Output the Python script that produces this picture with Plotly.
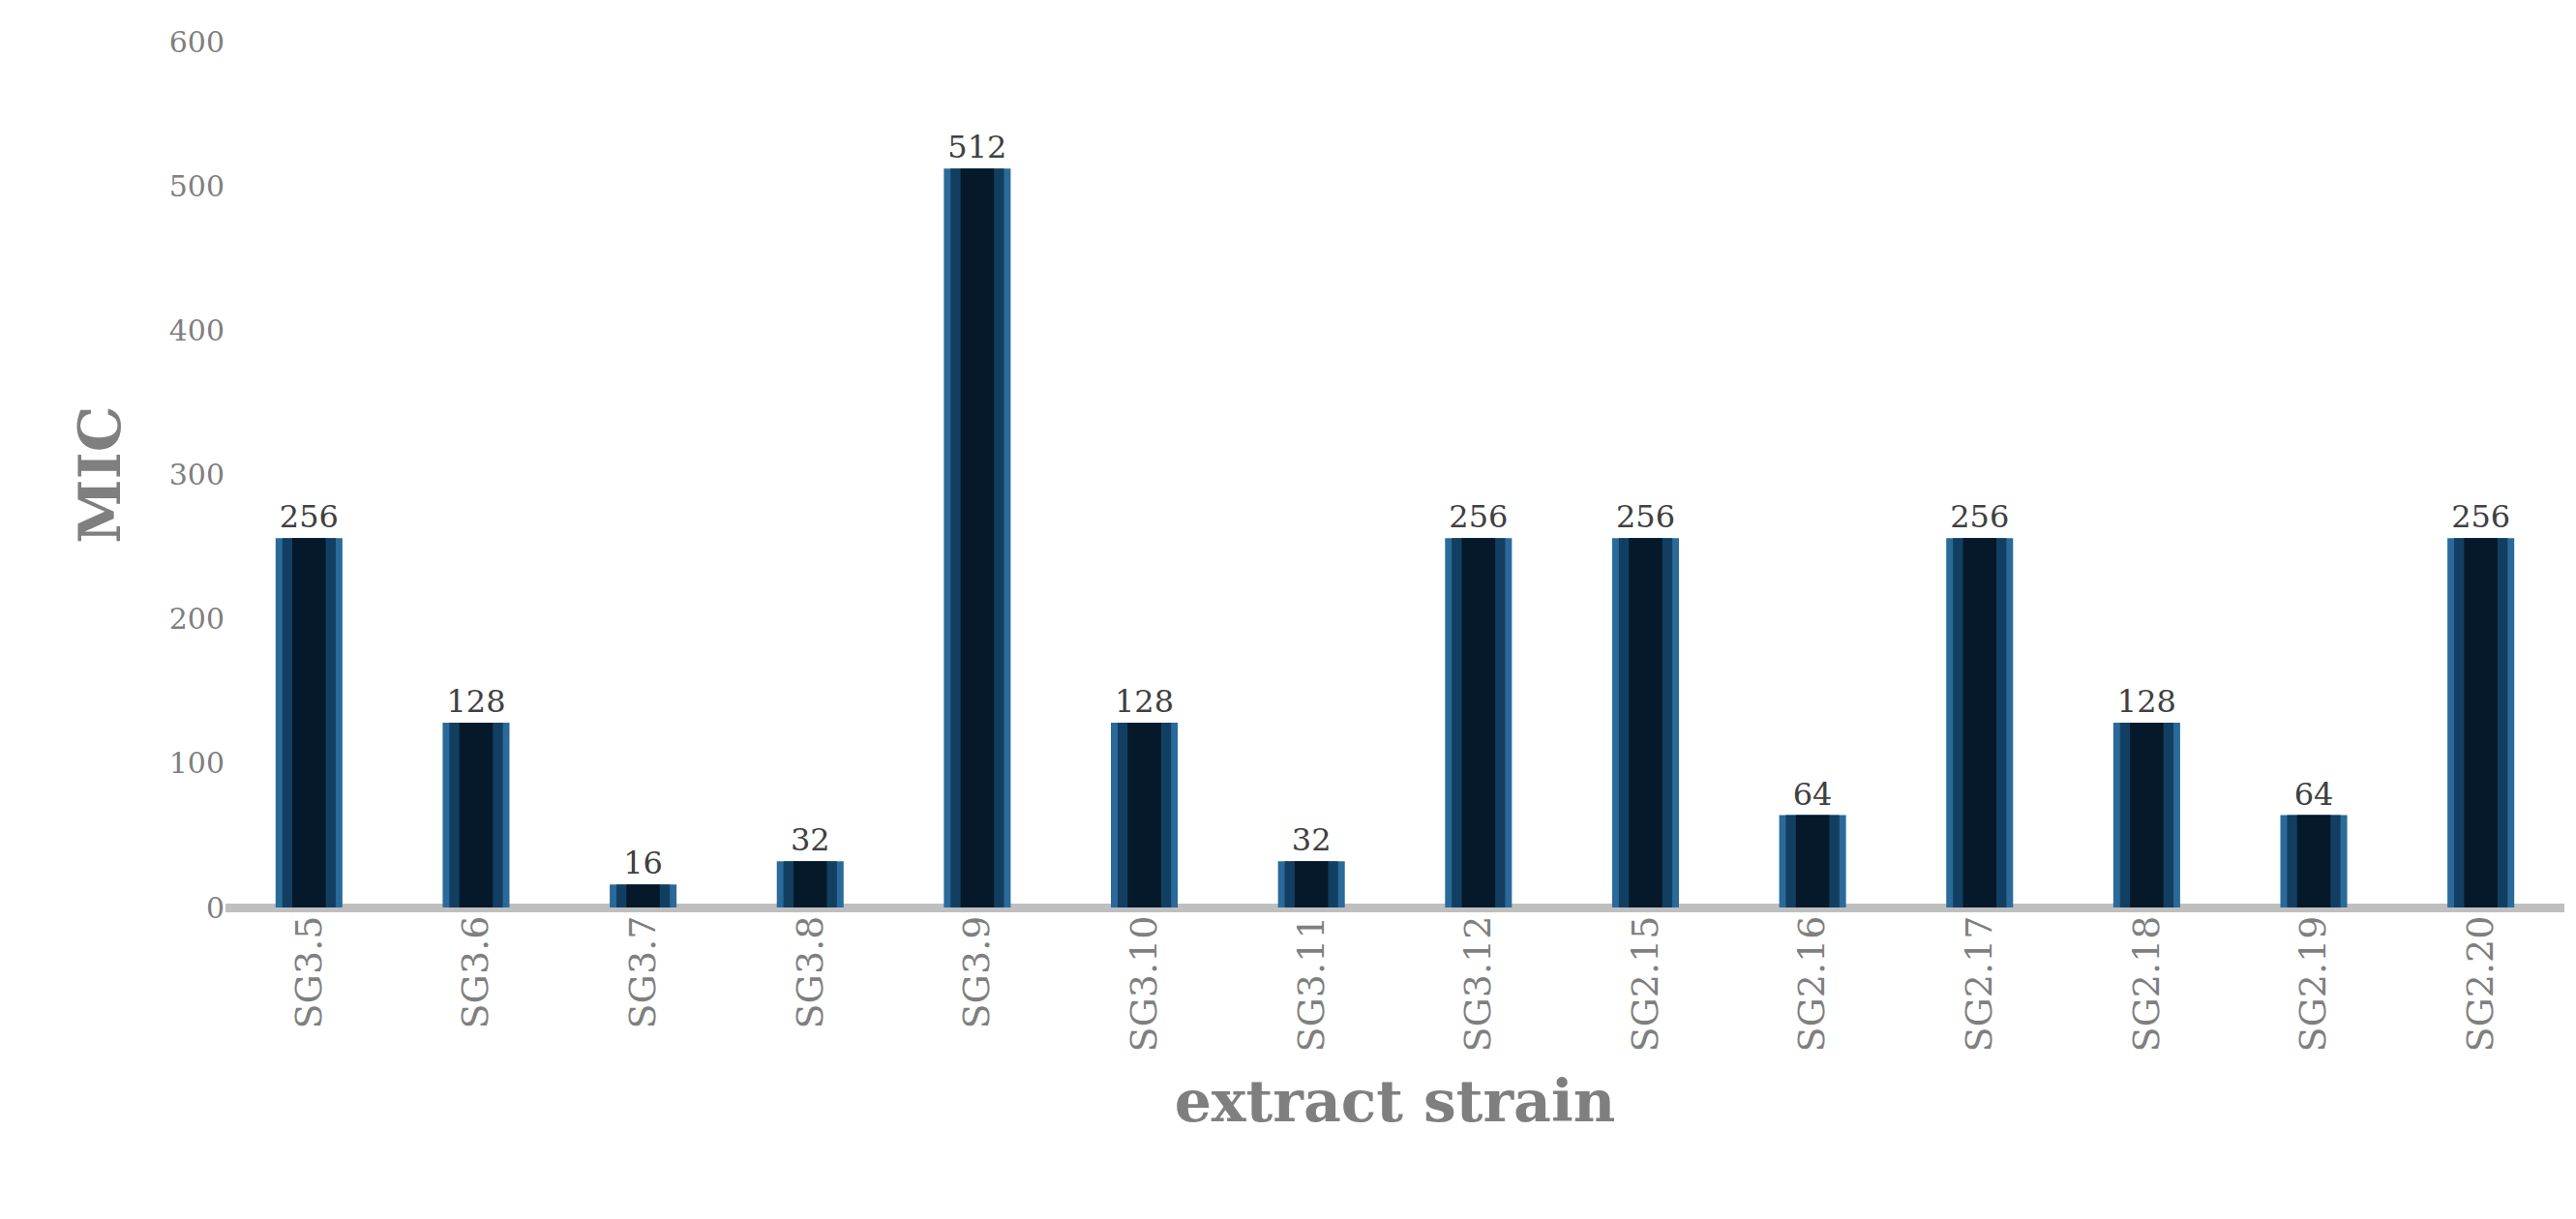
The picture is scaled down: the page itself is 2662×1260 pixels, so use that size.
import plotly.graph_objects as go

strains = ["SG3.5","SG3.6","SG3.7","SG3.8","SG3.9","SG3.10","SG3.11","SG3.12","SG2.15","SG2.16","SG2.17","SG2.18","SG2.19","SG2.20"]
mic = [256,128,16,32,512,128,32,256,256,64,256,128,64,256]

fig = go.Figure()
layers = [(0.4, "#2a6a9a"), (0.32, "#123f61"), (0.2, "#06192a")]
for i, (w, c) in enumerate(layers):
    fig.add_trace(go.Bar(x=strains, y=mic, width=w, marker=dict(color=c, line=dict(width=0)),
                         showlegend=False, hoverinfo="skip",
                         text=[str(v) for v in mic] if i == 0 else None,
                         textposition="outside", cliponaxis=False,
                         textfont=dict(family="DejaVu Serif", size=32, color="#404040")))
fig.update_layout(
    width=2662, height=1260, barmode="overlay", plot_bgcolor="white", paper_bgcolor="white",
    margin=dict(l=225, r=20, t=35, b=330),
    font=dict(family="DejaVu Serif", color="#7f7f7f"),
    xaxis=dict(tickangle=-90, tickfont=dict(size=38, color="#7f7f7f"), showline=False, ticks="",
               title=dict(text="<b>extract strain</b>", font=dict(size=60, color="#7f7f7f"), standoff=30)),
    yaxis=dict(range=[0, 600], dtick=100, showgrid=False, zeroline=True, zerolinecolor="#bfbfbf",
               zerolinewidth=9, tickfont=dict(size=30, color="#7f7f7f"), ticks="", ticklen=10,
               title=dict(text="<b>MIC</b>", font=dict(size=60, color="#7f7f7f"), standoff=30)),
)
fig.write_html("out.html")
